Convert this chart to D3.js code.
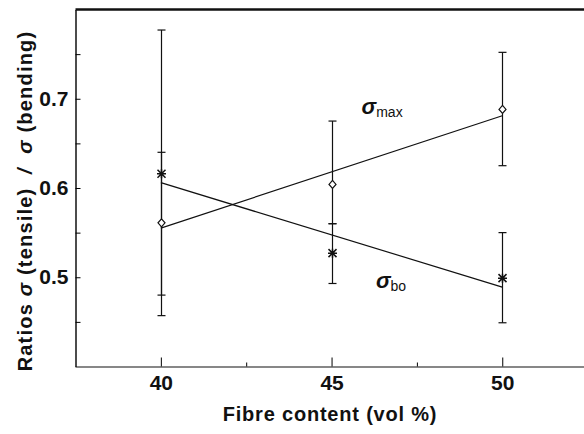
<!DOCTYPE html>
<html>
<head>
<meta charset="utf-8">
<script src="https://cdn.jsdelivr.net/npm/d3@7"></script>
<style>
  body { margin: 0; background: #fff; }
  text { font-family: "Liberation Sans", Arial, sans-serif; fill: #111; }
</style>
</head>
<body>
<svg width="584" height="434"></svg>
<script>
// Data
const fibre = [40, 45, 50];
const sigmaMax = [0.561, 0.604, 0.688];
const sigmaBo = [0.616, 0.527, 0.499];
const maxLow = [0.48, 0.56, 0.625];
const maxHigh = [0.64, 0.675, 0.752];
const boLow = [0.457, 0.493, 0.449];
const boHigh = [0.777, 0.56, 0.55];
const fitX = [40, 50];
const maxFit = [0.555, 0.681];
const boFit = [0.606, 0.489];
const xTicks = [40, 45, 50];
const xMinor = [42.5, 47.5];
const yTicks = [0.45, 0.5, 0.55, 0.6, 0.65, 0.7, 0.75];
const yLabelled = [0.5, 0.6, 0.7];

const svg = d3.select("svg");
const plotLeft = 75.5, plotTop = 9.5, plotBottom = 366.5;

const x = d3.scaleLinear().domain([37.5, 52.5]).range([plotLeft, plotLeft + 15 * 34.14]);
const y = d3.scaleLinear().domain([0.4, 0.8]).range([plotBottom, plotTop]);

// Frame: heavy top rule, left and bottom axes
svg.append("line")
    .attr("x1", plotLeft).attr("x2", 584)
    .attr("y1", plotTop).attr("y2", plotTop)
    .attr("stroke", "#111").attr("stroke-width", 2.5);

const yAxis = svg.append("g")
    .attr("transform", `translate(${plotLeft},0)`)
    .call(d3.axisLeft(y).tickValues(yTicks).tickSizeInner(-5).tickSizeOuter(0).tickPadding(7)
        .tickFormat(d => yLabelled.some(v => Math.abs(v - d) < 1e-9) ? d3.format(".1f")(d) : ""));
yAxis.select(".domain").attr("stroke", "#111").attr("stroke-width", 1.5);
yAxis.selectAll("text").style("font-size", "21px").style("font-weight", "bold").attr("fill", "#111");

const xAxis = svg.append("g")
    .attr("transform", `translate(0,${plotBottom})`)
    .call(d3.axisBottom(x).tickValues(xTicks).tickSizeInner(-9).tickSizeOuter(0).tickPadding(9)
        .tickFormat(d3.format("d")));
xAxis.select(".domain").attr("stroke", "#111").attr("stroke-width", 1.2)
    .attr("d", `M${plotLeft},0.5H584`);
xAxis.selectAll("text").style("font-size", "21px").style("font-weight", "bold").attr("fill", "#111");

svg.append("g")
    .attr("transform", `translate(0,${plotBottom})`)
    .call(d3.axisBottom(x).tickValues(xMinor).tickSizeInner(-4).tickSizeOuter(0).tickFormat(""))
    .select(".domain").remove();

// Axis titles
svg.append("text")
    .attr("x", 330).attr("y", 421)
    .attr("text-anchor", "middle")
    .style("font-size", "20px").style("font-weight", "bold").style("letter-spacing", "0.8px")
    .text("Fibre content (vol %)");

const yt = svg.append("text")
    .attr("transform", "translate(32,201) rotate(-90)")
    .attr("text-anchor", "middle")
    .style("font-size", "20px").style("font-weight", "bold").style("letter-spacing", "1.2px")
    .attr("xml:space", "preserve");
yt.append("tspan").text("Ratios ");
yt.append("tspan").style("font-style", "italic").text("σ");
yt.append("tspan").text(" (tensile)  ");
yt.append("tspan").style("font-style", "italic").text("/");
yt.append("tspan").text("  ");
yt.append("tspan").style("font-style", "italic").text("σ");
yt.append("tspan").text(" (bending)");

// Fitted lines
const line = d3.line().x(d => x(d[0])).y(d => y(d[1]));
[maxFit, boFit].forEach(fit => {
    svg.append("path")
        .datum(fitX.map((v, i) => [v, fit[i]]))
        .attr("d", line)
        .attr("fill", "none").attr("stroke", "#111").attr("stroke-width", 1.2);
});

// Error bars
function errorBars(lo, hi) {
    const g = svg.append("g").attr("stroke", "#111").attr("stroke-width", 1.2);
    fibre.forEach((f, i) => {
        const cx = Math.round(x(f)) + 0.5;
        g.append("line").attr("x1", cx).attr("x2", cx).attr("y1", y(lo[i])).attr("y2", y(hi[i]));
        [lo[i], hi[i]].forEach(v => {
            g.append("line").attr("x1", cx - 4).attr("x2", cx + 4).attr("y1", y(v)).attr("y2", y(v));
        });
    });
}
errorBars(boLow, boHigh);
errorBars(maxLow, maxHigh);

// Markers
svg.append("g").selectAll("path")
    .data(fibre.map((f, i) => [f, sigmaMax[i]]))
    .join("path")
    .attr("transform", d => `translate(${Math.round(x(d[0])) + 0.5},${y(d[1])})`)
    .attr("d", "M0,-4L3.5,0L0,4L-3.5,0Z")
    .attr("fill", "#fff").attr("stroke", "#111").attr("stroke-width", 1.2);

svg.append("g").selectAll("path")
    .data(fibre.map((f, i) => [f, sigmaBo[i]]))
    .join("path")
    .attr("transform", d => `translate(${Math.round(x(d[0])) + 0.5},${y(d[1])})`)
    .attr("d", "M-4,-4L4,4M-4,4L4,-4M-4.5,0H4.5M0,-4.5V4.5")
    .attr("fill", "none").attr("stroke", "#111").attr("stroke-width", 1.5);

// Series labels
function seriesLabel(px, py, sub) {
    const t = svg.append("text").attr("x", px).attr("y", py);
    t.append("tspan").style("font-size", "22px").style("font-weight", "bold").style("font-style", "italic").text("σ");
    t.append("tspan").attr("dy", 3).style("font-size", "14px").text(sub);
}
seriesLabel(x(45.88), y(0.683), "max");
seriesLabel(x(46.3), y(0.488), "bo");
</script>
</body>
</html>
